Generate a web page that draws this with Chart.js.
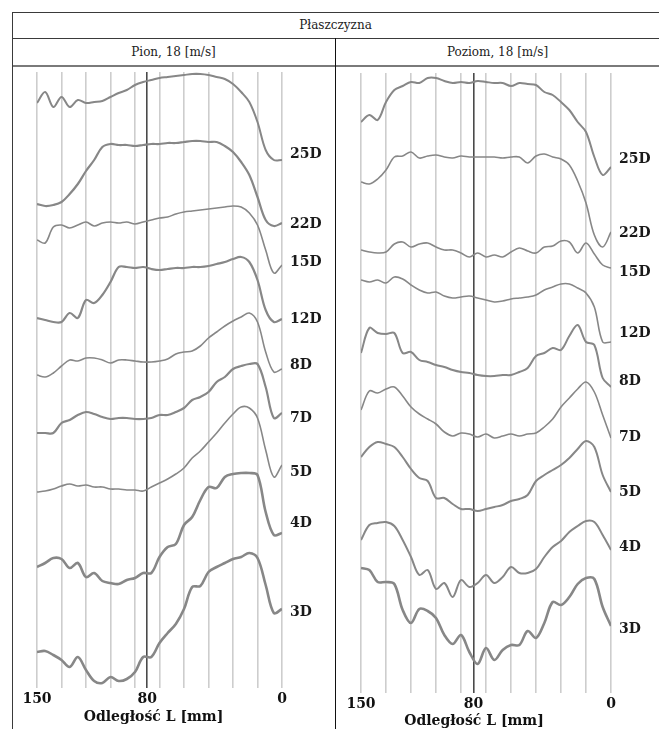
<!DOCTYPE html>
<html lang="pl">
<head>
<meta charset="utf-8">
<title>Płaszczyzna</title>
<script src="https://cdn.jsdelivr.net/npm/chart.js@4.4.1/dist/chart.umd.min.js"></script>
<style>
  body { margin: 0; background: #fff; width: 659px; height: 729px; overflow: hidden; position: relative; font-family: "DejaVu Serif", serif; }
  .rule { position: absolute; background: #3a3a3a; }
  .cell { position: absolute; text-align: center; font-size: 12px; color: #222; }
  canvas { position: absolute; }
</style>
</head>
<body>
<canvas id="pion" width="321" height="662" style="left:13px;top:67px"></canvas>
<canvas id="poziom" width="323" height="662" style="left:336px;top:67px"></canvas>

<div class="rule" style="left:12px;top:12px;width:647px;height:1px"></div>
<div class="rule" style="left:12px;top:38px;width:647px;height:1px"></div>
<div class="rule" style="left:12px;top:65px;width:647px;height:2px;background:#7a7a7a"></div>
<div class="rule" style="left:12px;top:12px;width:1px;height:717px"></div>
<div class="rule" style="left:335px;top:38px;width:1px;height:691px;background:#111"></div>

<div class="cell" style="left:12px;top:13px;width:647px;line-height:25px">Płaszczyzna</div>
<div class="cell" style="left:12px;top:39px;width:323px;line-height:26px">Pion, 18 [m/s]</div>
<div class="cell" style="left:336px;top:39px;width:323px;line-height:26px">Poziom, 18 [m/s]</div>

<script>
// Distance from the wall, mm (x axis runs 150 -> 0)
const distances = [150, 145, 140, 135, 130, 125, 120, 115, 110, 105, 100, 95, 90, 85, 80, 75,
                   70, 65, 60, 55, 50, 45, 40, 35, 30, 25, 20, 15, 10, 5, 0];
const stations = ['25D', '22D', '15D', '12D', '8D', '7D', '5D', '4D', '3D'];

// vertical grid and the marked 80 mm line
const gridValues = [150, 135, 120, 105, 90, 82.5, 75, 60, 45, 30, 15, 0];
const gridLabels = ['150', '', '', '', '', '80', '', '', '', '', '', '0'];

// Pion - stacked profiles (axis units, measured downward from the top of the plot)
const pion25 = [3.1, 2.0, 3.5, 2.5, 3.5, 2.8, 3.1, 3.0, 2.9, 2.5, 2.1, 1.8, 1.3, 1.0, 0.8, 0.6, 0.5, 0.4, 0.3, 0.2, 0.2, 0.3, 0.5, 0.7, 1.2, 2.0, 3.0, 5.0, 7.8, 8.8, 8.8];
const pion22 = [13.2, 13.4, 13.3, 13.0, 12.2, 11.2, 9.9, 8.8, 7.5, 7.2, 7.3, 7.3, 7.4, 7.3, 7.2, 7.2, 7.1, 7.1, 7.0, 6.9, 6.9, 7.0, 7.0, 7.4, 8.0, 9.0, 10.3, 12.5, 14.8, 15.4, 15.1];
const pion15 = [16.8, 17.1, 15.5, 15.3, 15.6, 15.3, 15.0, 15.4, 15.1, 15.0, 15.1, 15.0, 15.2, 15.0, 14.8, 14.6, 14.5, 14.2, 14.0, 13.9, 13.8, 13.7, 13.6, 13.5, 13.4, 13.5, 14.1, 15.3, 17.8, 20.1, 19.3];
const pion12 = [24.6, 24.8, 25.0, 25.0, 24.1, 24.6, 22.8, 23.1, 22.3, 21.0, 19.5, 19.5, 19.6, 19.5, 19.7, 19.8, 19.7, 19.6, 19.6, 19.5, 19.5, 19.4, 19.2, 19.0, 18.7, 18.5, 19.0, 20.8, 23.8, 25.0, 24.7];
const pion8 = [30.3, 30.5, 30.1, 29.4, 28.8, 28.9, 28.6, 28.6, 28.8, 29.1, 28.8, 28.8, 28.9, 29.0, 29.0, 28.9, 28.7, 28.2, 28.0, 27.9, 27.4, 26.6, 26.0, 25.4, 24.9, 24.5, 24.1, 25.0, 28.0, 30.0, 29.7];
const pion7 = [36.1, 36.1, 36.1, 35.1, 34.8, 34.3, 34.0, 34.2, 34.5, 34.7, 34.6, 34.6, 34.7, 34.7, 34.6, 34.3, 34.3, 34.0, 33.6, 32.8, 32.5, 32.0, 31.0, 30.5, 29.7, 29.4, 29.2, 29.2, 31.5, 34.6, 34.1];
const pion5 = [42.0, 41.9, 41.7, 41.4, 41.2, 41.4, 41.3, 41.5, 41.5, 41.7, 41.7, 41.8, 41.8, 41.9, 41.5, 41.1, 40.7, 40.2, 39.6, 38.6, 37.9, 37.0, 36.1, 35.1, 34.2, 33.5, 33.6, 34.6, 37.8, 40.5, 39.3];
const pion4 = [49.5, 49.1, 48.6, 48.7, 49.6, 49.1, 50.5, 50.1, 50.9, 51.1, 51.2, 50.8, 50.6, 50.1, 50.1, 48.5, 47.5, 47.2, 45.3, 44.5, 42.8, 41.5, 41.6, 40.5, 40.2, 40.1, 40.1, 40.3, 44.0, 46.3, 46.1];
const pion3 = [58.0, 57.9, 58.3, 58.8, 59.5, 58.5, 59.8, 60.9, 61.1, 60.5, 60.9, 60.7, 60.0, 58.5, 58.5, 57.1, 56.1, 55.2, 53.7, 51.5, 51.4, 50.0, 49.5, 49.1, 48.7, 48.5, 48.1, 48.6, 51.3, 54.1, 53.7];
const pionLabelPos = [8.2, 15.2, 19.0, 24.7, 29.3, 34.6, 40.0, 45.1, 54.0];

// Poziom
const poziom25 = [4.9, 4.2, 4.7, 2.9, 1.7, 1.3, 0.9, 1.0, 0.5, 0.5, 0.8, 1.0, 0.9, 1.0, 0.8, 0.9, 1.0, 1.0, 1.3, 1.0, 1.1, 1.2, 1.9, 2.2, 2.9, 3.7, 4.9, 5.9, 8.4, 10.2, 9.4];
const poziom22 = [10.9, 11.1, 10.6, 9.7, 8.4, 8.3, 7.9, 8.5, 8.3, 8.2, 8.4, 8.5, 8.3, 8.4, 8.4, 8.4, 8.4, 8.5, 8.4, 8.4, 9.0, 8.3, 8.1, 8.4, 8.6, 9.2, 10.8, 13.0, 16.2, 17.4, 15.9];
const poziom15 = [17.7, 17.9, 18.0, 17.9, 17.1, 16.9, 17.4, 17.1, 17.0, 17.4, 17.7, 17.7, 18.0, 18.4, 18.0, 18.4, 18.2, 18.4, 17.9, 17.5, 17.8, 18.0, 17.4, 17.3, 16.8, 16.9, 18.0, 17.0, 18.1, 19.2, 19.5];
const poziom12 = [20.7, 20.9, 20.7, 21.0, 20.4, 20.6, 21.2, 21.7, 22.0, 21.9, 22.3, 22.5, 22.4, 22.3, 22.5, 22.7, 22.9, 22.8, 22.6, 22.5, 22.4, 22.2, 21.7, 21.4, 21.1, 21.1, 21.5, 22.0, 23.4, 26.9, 26.9];
const poziom8 = [28.0, 25.5, 26.0, 26.1, 26.0, 28.0, 27.9, 28.7, 28.9, 29.2, 29.4, 29.7, 29.9, 30.0, 30.2, 30.3, 30.3, 30.2, 30.2, 29.9, 29.5, 28.3, 28.0, 27.5, 27.7, 26.3, 25.2, 26.9, 27.2, 30.5, 31.4];
const poziom7 = [33.7, 31.8, 32.0, 31.6, 31.4, 32.3, 33.4, 34.1, 34.6, 35.1, 35.9, 36.3, 36.0, 36.1, 36.4, 36.1, 36.5, 36.3, 36.1, 36.3, 36.1, 36.0, 35.4, 34.6, 33.4, 32.5, 31.6, 30.9, 31.9, 34.2, 36.5];
const poziom5 = [38.4, 37.4, 36.9, 37.1, 37.4, 38.4, 39.6, 40.5, 40.8, 42.5, 42.5, 43.1, 43.6, 43.6, 43.8, 43.6, 43.4, 43.2, 42.8, 42.6, 42.2, 40.8, 40.2, 39.7, 39.2, 38.5, 37.6, 36.8, 37.4, 40.2, 41.9];
const poziom4 = [46.7, 45.2, 45.0, 44.9, 45.3, 46.7, 48.4, 50.2, 49.7, 51.6, 51.0, 52.4, 50.7, 51.4, 51.0, 50.2, 51.0, 50.4, 49.4, 50.0, 50.0, 49.6, 48.4, 47.4, 46.8, 45.9, 45.3, 44.8, 44.9, 46.2, 47.7];
const poziom3 = [49.5, 49.7, 50.9, 50.9, 51.1, 53.7, 55.0, 53.6, 53.8, 54.5, 56.2, 57.1, 56.2, 57.9, 59.1, 57.5, 58.7, 57.7, 57.2, 57.2, 55.8, 56.5, 55.0, 52.9, 53.2, 52.4, 51.1, 50.5, 50.6, 53.4, 55.3];
const poziomLabelPos = [8.6, 16.0, 19.9, 26.0, 30.8, 36.4, 41.9, 47.4, 55.6];

const pionWidths = [2, 2.2, 1.6, 2.2, 1.6, 2.2, 1.6, 2.6, 2.6];
const poziomWidths = [2, 1.6, 1.6, 1.6, 2, 1.6, 2, 2, 2.6];

const serif = '"DejaVu Serif", serif';
const axisTitle = 'Odległość L [mm]';

// station names next to the right end of each profile, plus the axis title
const stationLabels = {
  id: 'stationLabels',
  afterDraw(chart, args, opts) {
    const { ctx, chartArea, scales } = chart;
    ctx.save();
    ctx.font = 'bold 14px ' + serif;
    ctx.fillStyle = '#1a1a1a';
    ctx.textBaseline = 'middle';
    opts.positions.forEach((p, i) => {
      ctx.fillText(stations[i], chartArea.right + 8, scales.y.getPixelForValue(p));
    });
    // axis title sits a little left of the plot centre in the original
    ctx.textAlign = 'center';
    ctx.fillStyle = '#111';
    ctx.fillText(axisTitle, (chartArea.left + chartArea.right) / 2 + opts.titleShift,
                 chartArea.bottom + opts.titleDrop);
    ctx.restore();
  }
};

function makeChart(id, series, widths, labelPos, yMax, layout) {
  const ctx = document.getElementById(id).getContext('2d');
  return new Chart(ctx, {
    type: 'line',
    data: {
      datasets: series.map((values, i) => ({
        label: stations[i],
        data: distances.map((d, j) => ({ x: d, y: values[j] })),
        borderColor: '#878787',
        borderWidth: widths[i],
        pointRadius: 0,
        tension: 0.35,
        fill: false
      }))
    },
    options: {
      responsive: false,
      animation: false,
      devicePixelRatio: 1,
      layout: { padding: layout.padding },
      plugins: {
        legend: { display: false },
        tooltip: { enabled: false },
        stationLabels: { positions: labelPos, titleShift: layout.titleShift, titleDrop: layout.titleDrop }
      },
      scales: {
        x: {
          type: 'linear',
          min: 0,
          max: 150,
          reverse: true,
          afterBuildTicks: s => { s.ticks = gridValues.map(v => ({ value: v })); },
          afterFit: s => { s.height = layout.axisHeight; },
          grid: {
            color: c => (c.tick && c.tick.value === 82.5 ? '#4a4a4a' : '#cdcdcd'),
            lineWidth: 1.6,
            drawTicks: false
          },
          border: { display: false },
          ticks: {
            autoSkip: false,
            maxRotation: 0,
            padding: 3,
            color: '#111',
            font: { family: serif, size: 14, weight: 'bold' },
            callback: (v, i) => gridLabels[i]
          }
        },
        y: {
          display: false,
          min: 0,
          max: yMax,
          reverse: true
        }
      }
    },
    plugins: [stationLabels]
  });
}

makeChart('pion',
  [pion25, pion22, pion15, pion12, pion8, pion7, pion5, pion4, pion3],
  pionWidths, pionLabelPos, 61.6,
  { padding: { left: 24, right: 52, top: 5, bottom: 0 }, axisHeight: 41, titleShift: -6, titleDrop: 29 });

makeChart('poziom',
  [poziom25, poziom22, poziom15, poziom12, poziom8, poziom7, poziom5, poziom4, poziom3],
  poziomWidths, poziomLabelPos, 62,
  { padding: { left: 25, right: 48, top: 6, bottom: 0 }, axisHeight: 36, titleShift: -12, titleDrop: 28 });
</script>
</body>
</html>
